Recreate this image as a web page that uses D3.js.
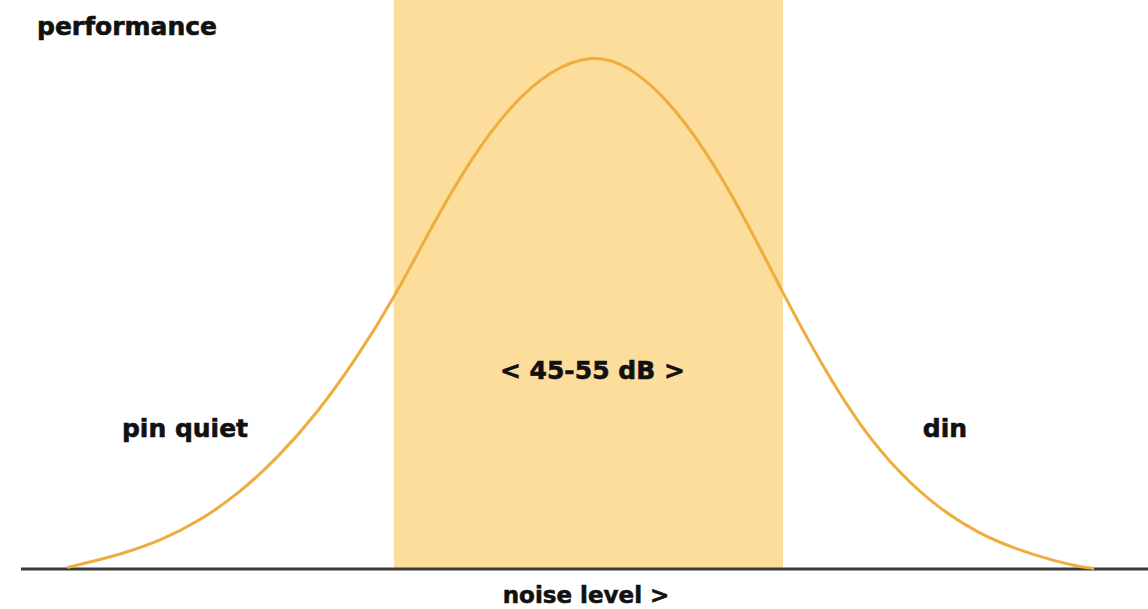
<!DOCTYPE html>
<html>
<head>
<meta charset="utf-8">
<script src="https://cdn.jsdelivr.net/npm/d3@7"></script>
<style>
  html, body { margin: 0; padding: 0; background: #fff; overflow: hidden; }
  text { font-family: "DejaVu Sans", sans-serif; font-weight: bold; fill: #111; stroke: #111; stroke-width: 0.6px; }
</style>
</head>
<body>
<script>
// noise level (dB) and relative performance
const noiseDb = [36.6, 37, 38, 39, 40, 41, 42, 43, 44, 45, 46, 47, 48, 49, 50.1,
  51, 52, 53, 54, 55, 56, 57, 58, 59, 60, 61, 62, 62.6, 63];
const performance = [0.3, 1.0, 2.9, 5.5, 9.3, 14.6, 21.5, 30, 40.5, 52.5, 67, 80, 90, 96.8, 100,
  97.9, 91.5, 81.5, 68.5, 53.5, 39.5, 27.5, 18.5, 11.8, 7, 3.8, 1.5, 0.5, 0.1];
const sweetSpot = [45, 55];
const labels = {
  yTitle: 'performance',
  xTitle: 'noise level >',
  band: '< 45-55 dB >',
  low: 'pin quiet',
  high: 'din'
};

const width = 1148;
const height = 609;
const baseY = 569;

const svg = d3.select('body')
  .append('svg')
  .attr('width', width)
  .attr('height', height);

const x = d3.scaleLinear()
  .domain(sweetSpot)
  .range([394, 783]);

const y = d3.scaleLinear()
  .domain([0, 100])
  .range([baseY, 54]);

// shaded comfort band
svg.append('rect')
  .attr('x', x(sweetSpot[0]))
  .attr('y', 0)
  .attr('width', x(sweetSpot[1]) - x(sweetSpot[0]))
  .attr('height', baseY)
  .attr('fill', '#fddd9b');

const points = noiseDb.map((d, i) => [d, performance[i]]);

// b-spline smooths out the reading noise
const line = d3.line()
  .x((d) => x(d[0]))
  .y((d) => y(d[1]))
  .curve(d3.curveBasis);

// baseline
svg.append('line')
  .attr('x1', 21)
  .attr('x2', width)
  .attr('y1', baseY)
  .attr('y2', baseY)
  .attr('stroke', '#3a3a3a')
  .attr('stroke-width', 3);

svg.append('path')
  .datum(points)
  .attr('d', line)
  .attr('fill', 'none')
  .attr('stroke', '#eead3c')
  .attr('stroke-width', 3);

svg.append('text')
  .attr('x', 37)
  .attr('y', 35)
  .attr('font-size', 25)
  .text(labels.yTitle);

svg.append('text')
  .attr('x', x(50.1))
  .attr('y', 379)
  .attr('text-anchor', 'middle')
  .attr('font-size', 25)
  .text(labels.band);

svg.append('text')
  .attr('x', 185)
  .attr('y', 437)
  .attr('text-anchor', 'middle')
  .attr('font-size', 25)
  .text(labels.low);

svg.append('text')
  .attr('x', 945)
  .attr('y', 437)
  .attr('text-anchor', 'middle')
  .attr('font-size', 25)
  .text(labels.high);

svg.append('text')
  .attr('x', 586)
  .attr('y', 603)
  .attr('text-anchor', 'middle')
  .attr('font-size', 23)
  .text(labels.xTitle);
</script>
</body>
</html>
